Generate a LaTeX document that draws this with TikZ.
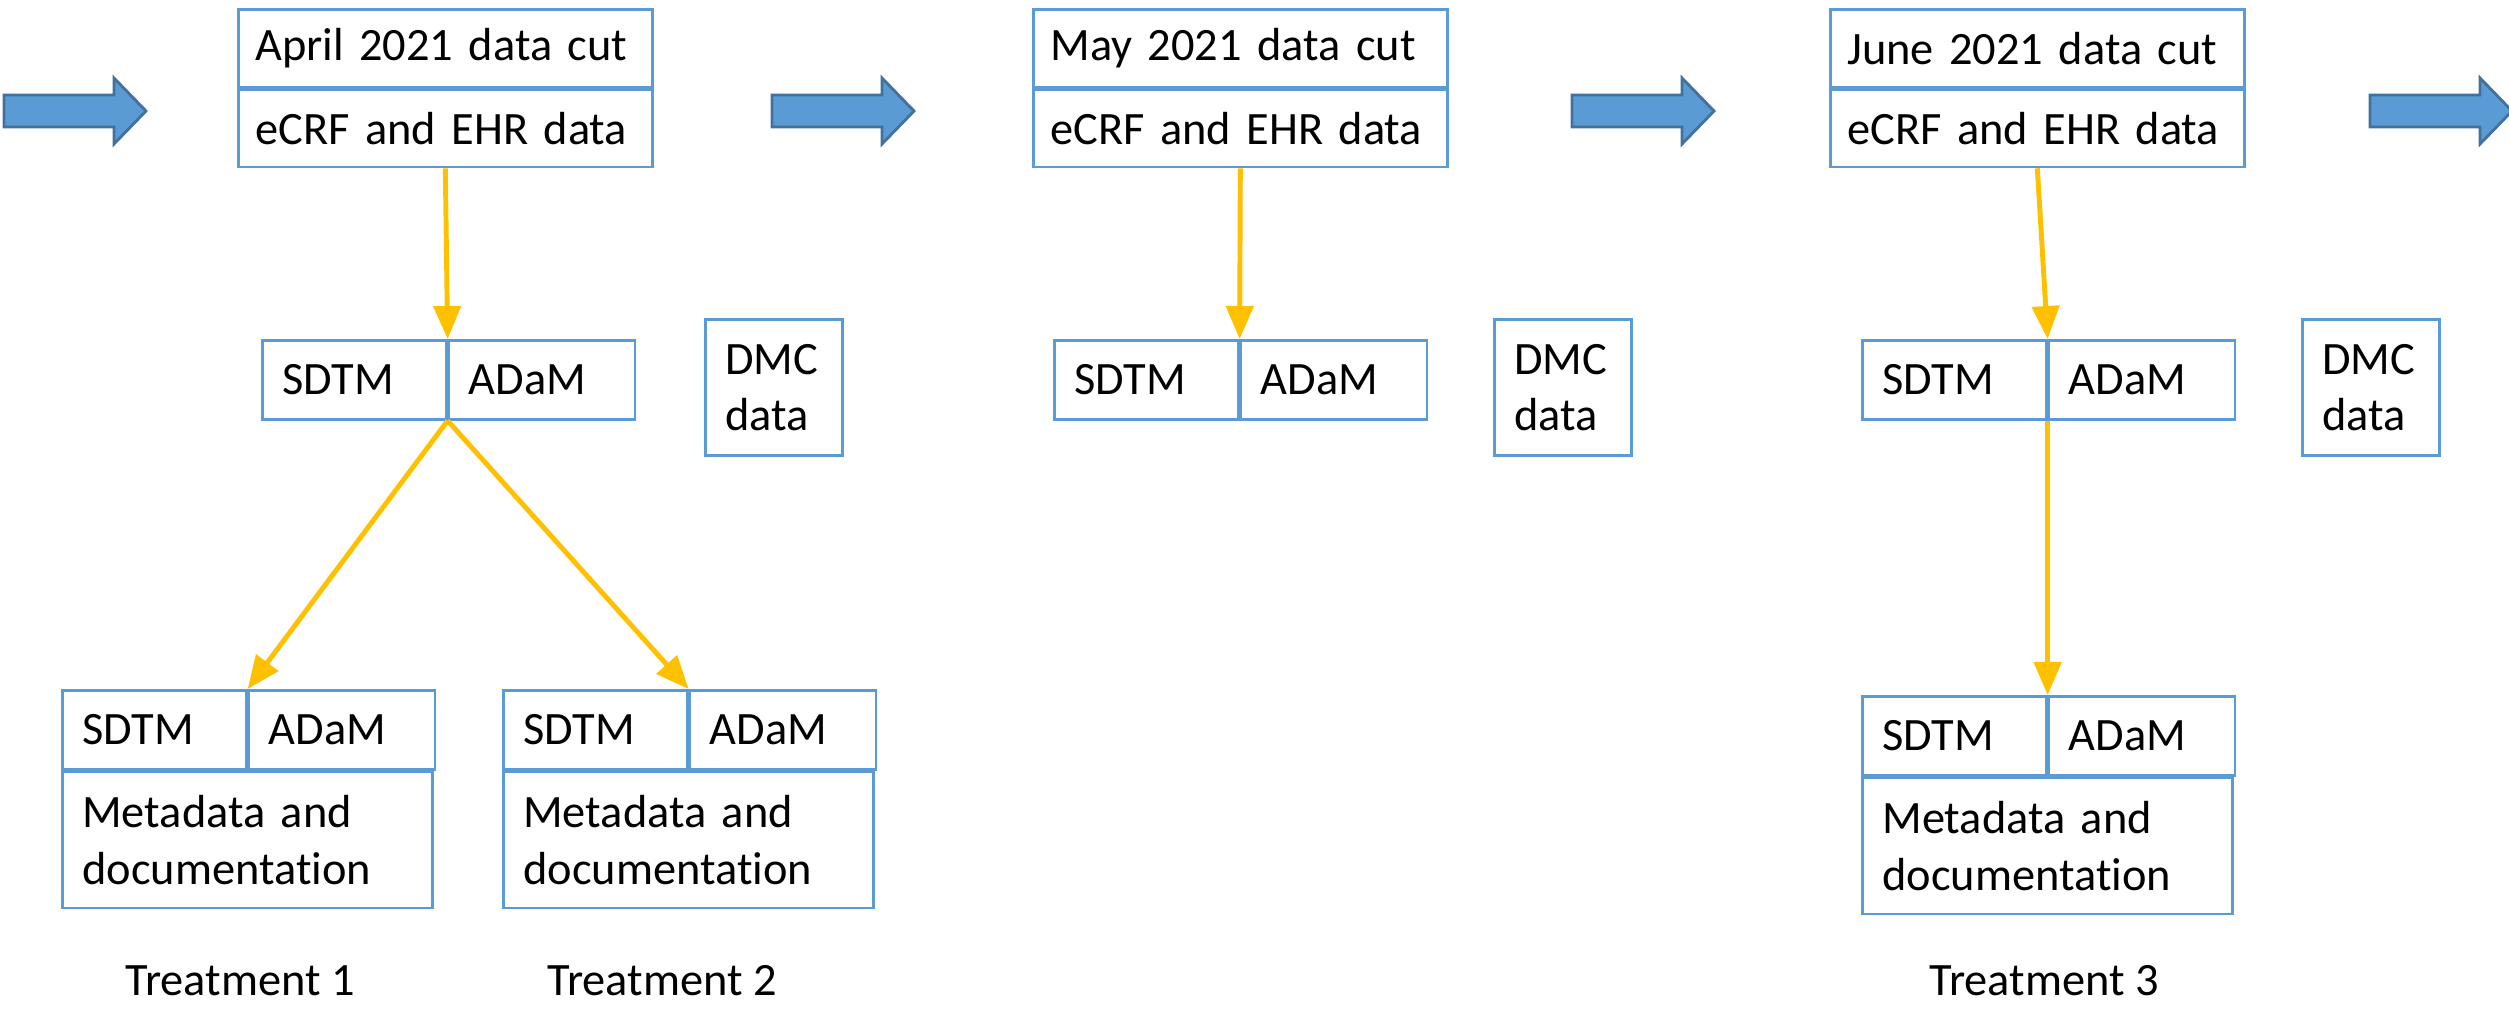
\documentclass[tikz,border=0pt]{standalone}
\usepackage{fontspec}
\setmainfont[Ligatures=CommonOff]{Carlito}
\usetikzlibrary{arrows.meta}
\definecolor{cellblue}{HTML}{5B9BD5}
\definecolor{arrowedge}{HTML}{41719C}
\definecolor{feedyellow}{HTML}{FFC000}
\tikzset{
	cell/.style={draw=cellblue, line width=0.75pt, inner xsep=0.2cm, inner ysep=0pt, anchor=north west, align=left, font=\fontsize{13.2}{16}\selectfont},
	topcell/.style={cell, inner xsep=0.17cm, text width=3.80cm, minimum height=0.775cm},
	sdtmcell/.style={cell, text width=1.44cm, minimum height=0.79cm},
	adamcell/.style={cell, text width=1.46cm, minimum height=0.79cm},
	metacell/.style={cell, text width=3.30cm, minimum height=1.36cm},
	dmccell/.style={cell, text width=0.97cm, minimum height=1.36cm},
	feed/.style={draw=feedyellow, line width=1.4pt, -{Triangle[length=0.33cm,width=0.27cm]}},
	blockarrow/.style={fill=cellblue, draw=arrowedge, line width=0.8pt, line join=miter},
	label/.style={font=\fontsize{13.2}{16}\selectfont}
}
\begin{document}
\begin{tikzpicture}
			\useasboundingbox (0,0) rectangle (25.09,-10.09);
			% data cuts
			\node[topcell] (cut1)  at (2.37,-0.08)        {April 2021 data cut};
			\node[topcell] (ecrf1) at (cut1.south west)   {eCRF and EHR data};
			\node[topcell] (cut2)  at (10.32,-0.08)       {May 2021 data cut};
			\node[topcell] (ecrf2) at (cut2.south west)   {eCRF and EHR data};
			\node[topcell] (cut3)  at (18.29,-0.08)       {June 2021 data cut};
			\node[topcell] (ecrf3) at (cut3.south west)   {eCRF and EHR data};
			%
			\node[sdtmcell] (sdtm1) at (2.61,-3.39)        {SDTM};
			\node[adamcell] (adam1) at (sdtm1.north east)  {ADaM};
			\node[sdtmcell] (sdtm2) at (10.53,-3.39)       {SDTM};
			\node[adamcell] (adam2) at (sdtm2.north east)  {ADaM};
			\node[sdtmcell] (sdtm3) at (18.61,-3.39)       {SDTM};
			\node[adamcell] (adam3) at (sdtm3.north east)  {ADaM};
			%
			\node[dmccell] (dmc1) at (7.04,-3.18)   {DMC\\data};
			\node[dmccell] (dmc2) at (14.93,-3.18)  {DMC\\data};
			\node[dmccell] (dmc3) at (23.01,-3.18)  {DMC\\data};
			% treatments
			\node[sdtmcell] (tsdtm1) at (0.61,-6.89)        {SDTM};
			\node[adamcell] (tadam1) at (tsdtm1.north east) {ADaM};
			\node[metacell] (meta1)  at (tsdtm1.south west) {Metadata and\\documentation};
			\node[sdtmcell] (tsdtm2) at (5.02,-6.89)        {SDTM};
			\node[adamcell] (tadam2) at (tsdtm2.north east) {ADaM};
			\node[metacell] (meta2)  at (tsdtm2.south west) {Metadata and\\documentation};
			\node[sdtmcell] (tsdtm3) at (18.61,-6.95)       {SDTM};
			\node[adamcell] (tadam3) at (tsdtm3.north east) {ADaM};
			\node[metacell] (meta3)  at (tsdtm3.south west) {Metadata and\\documentation};
			%
			\node[label] (trt1) at (2.40,-9.81)  {Treatment 1};
			\node[label] (trt2) at (6.62,-9.81)  {Treatment 2};
			\node[label] (trt3) at (20.44,-9.81) {Treatment 3};
			%
			\def\feeds {ecrf1.south/sdtm1.north east, ecrf2.south/sdtm2.north east, ecrf3.south/sdtm3.north east, sdtm1.south east/tsdtm1.north east, sdtm1.south east/tsdtm2.north east, sdtm3.south east/tsdtm3.north east}  % yellow arrows
			\foreach \u/\v in \feeds
			{	\draw[feed] (\u) -- (\v);
			}
			\foreach \x in {0.04, 7.72, 15.72, 23.70}  % block arrows
			{	\draw[blockarrow] (\x,-0.95) -- ++(1.10,0) -- ++(0,0.17) -- ++(0.32,-0.33) -- ++(-0.32,-0.33) -- ++(0,0.17) -- ++(-1.10,0) -- cycle;
			}
			%
		\end{tikzpicture}
\end{document}
